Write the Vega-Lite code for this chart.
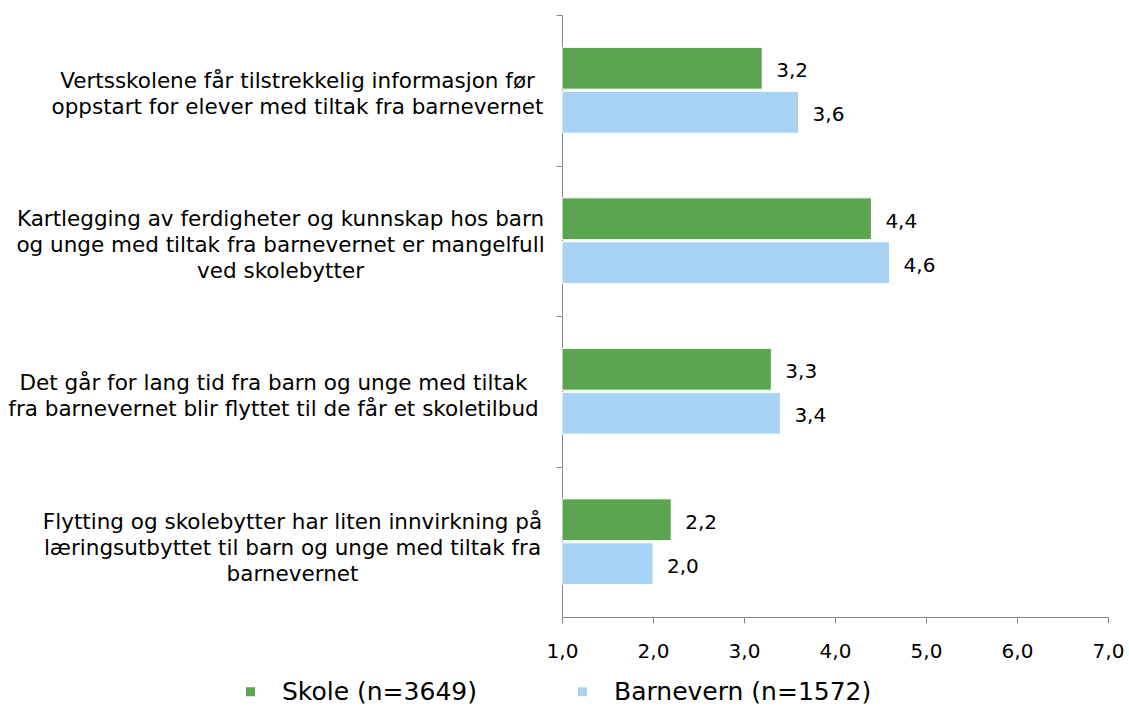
{
  "$schema": "https://vega.github.io/schema/vega-lite/v6.json",
  "width": 546,
  "height": 602,
  "autosize": {"type": "none"},
  "padding": {"left": 562, "top": 15, "right": 21, "bottom": 91},
  "background": "white",
  "config": {
    "font": "DejaVu Sans",
    "view": {"stroke": null},
    "locale": {"number": {"decimal": ",", "thousands": " ", "grouping": [3], "currency": ["", " kr"]}}
  },
  "data": {
    "values": [
      {"q": "Vertsskolene får tilstrekkelig informasjon før|oppstart for elever med tiltak fra barnevernet", "group": "Skole (n=3649)", "value": 3.2},
      {"q": "Vertsskolene får tilstrekkelig informasjon før|oppstart for elever med tiltak fra barnevernet", "group": "Barnevern (n=1572)", "value": 3.6},
      {"q": "Kartlegging av ferdigheter og kunnskap hos barn|og unge med tiltak fra barnevernet er mangelfull|ved skolebytter", "group": "Skole (n=3649)", "value": 4.4},
      {"q": "Kartlegging av ferdigheter og kunnskap hos barn|og unge med tiltak fra barnevernet er mangelfull|ved skolebytter", "group": "Barnevern (n=1572)", "value": 4.6},
      {"q": "Det går for lang tid fra barn og unge med tiltak|fra barnevernet blir flyttet til de får et skoletilbud", "group": "Skole (n=3649)", "value": 3.3},
      {"q": "Det går for lang tid fra barn og unge med tiltak|fra barnevernet blir flyttet til de får et skoletilbud", "group": "Barnevern (n=1572)", "value": 3.4},
      {"q": "Flytting og skolebytter har liten innvirkning på|læringsutbyttet til barn og unge med tiltak fra|barnevernet", "group": "Skole (n=3649)", "value": 2.2},
      {"q": "Flytting og skolebytter har liten innvirkning på|læringsutbyttet til barn og unge med tiltak fra|barnevernet", "group": "Barnevern (n=1572)", "value": 2.0}
    ]
  },
  "encoding": {
    "y": {
      "field": "q",
      "type": "nominal",
      "sort": null,
      "scale": {"paddingInner": 0.43, "paddingOuter": 0.215},
      "axis": {
        "title": null,
        "labelExpr": "split(datum.label, '|')",
        "labelAlign": "center",
        "labelBaseline": "middle",
        "labelFontSize": 21.5,
        "labelLineHeight": 26,
        "labelColor": "#000000",
        "labelLimit": 700,
        "labelPadding": {
          "condition": [
            {"test": "indexof(datum.value, 'Verts') == 0", "value": 259},
            {"test": "indexof(datum.value, 'Kartl') == 0", "value": 276},
            {"test": "indexof(datum.value, 'Det g') == 0", "value": 283}
          ],
          "value": 264
        },
        "labelOffset": {
          "condition": [
            {"test": "indexof(datum.value, 'Verts') == 0", "value": 66.25},
            {"test": "indexof(datum.value, 'Kartl') == 0", "value": 54.25},
            {"test": "indexof(datum.value, 'Det g') == 0", "value": 67.25}
          ],
          "value": 56.25
        },
        "tickSize": 6,
        "tickOffset": -75.25,
        "tickColor": "#868686",
        "domainColor": "#868686",
        "grid": false
      }
    },
    "yOffset": {
      "field": "group",
      "type": "nominal",
      "sort": ["Skole (n=3649)", "Barnevern (n=1572)"],
      "scale": {"paddingInner": 0.05}
    },
    "x": {
      "field": "value",
      "type": "quantitative",
      "scale": {"domain": [1, 7], "nice": false, "zero": false},
      "axis": {
        "title": null,
        "values": [1, 2, 3, 4, 5, 6, 7],
        "format": ".1f",
        "labelFontSize": 20,
        "labelColor": "#000000",
        "labelPadding": 18,
        "labelFlush": false,
        "tickSize": 6,
        "tickColor": "#868686",
        "domainColor": "#868686",
        "grid": false
      }
    }
  },
  "layer": [
    {
      "mark": {"type": "bar", "stroke": "white", "strokeWidth": 1},
      "encoding": {
        "x2": {"datum": 1},
        "color": {
          "field": "group",
          "type": "nominal",
          "sort": ["Skole (n=3649)", "Barnevern (n=1572)"],
          "scale": {"domain": ["Skole (n=3649)", "Barnevern (n=1572)"], "range": ["#5BA550", "#A8D3F4"]},
          "legend": {
            "title": null,
            "orient": "none",
            "direction": "horizontal",
            "legendX": -324,
            "legendY": 664,
            "symbolType": "square",
            "symbolSize": 81,
            "symbolStrokeWidth": 0,
            "labelFontSize": 25,
            "labelColor": "#000000",
            "labelOffset": 19,
            "columnPadding": 93,
            "labelLimit": 400
          }
        }
      }
    },
    {
      "mark": {"type": "text", "align": "left", "baseline": "middle", "dx": 14, "dy": 3, "fontSize": 20, "color": "#000000"},
      "encoding": {
        "text": {"field": "value", "type": "quantitative", "format": ".1f"}
      }
    }
  ]
}
